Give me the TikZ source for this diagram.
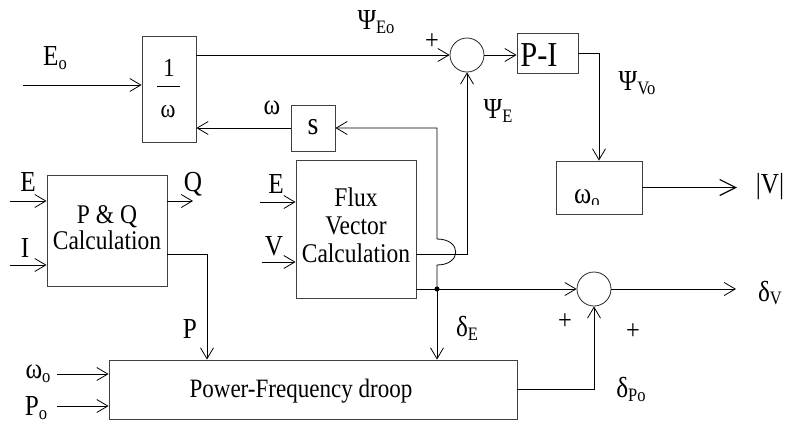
\documentclass[tikz,border=0pt]{standalone}
\usepackage{fontspec}
\setmainfont{Liberation Serif}
\usetikzlibrary{arrows.meta}
\newcommand{\cx}[1]{\scalebox{0.87}[1]{#1}}
\newcommand{\lbsub}[1]{\raisebox{-0.3ex}{\fontsize{19}{19}\selectfont #1}}
\begin{document}
\begin{tikzpicture}[x=1pt,y=-1pt,
  blk/.style={draw=black!75, line width=0.9pt, inner sep=0},
  sumc/.style={draw=black!85, line width=0.8pt, circle, minimum size=34pt, inner sep=0},
  wire/.style={line width=0.8pt},
  arr/.style={wire, -{Straight Barb[length=11pt,width=13pt,line width=0.8pt]}},
  bigarr/.style={line width=1.8pt, -{Straight Barb[length=16pt,width=16pt,line width=1.2pt]}},
  lbl/.style={inner sep=0, font=\fontsize{29}{30}\selectfont},
  btxt/.style={inner sep=0, align=center, font=\fontsize{27}{28}\selectfont},
  ]
\useasboundingbox (0,0) rectangle (789,424);

% blocks
\node[blk, minimum width=54pt, minimum height=106pt] (inv) at (169,89) {};
\node[inner sep=0, font=\fontsize{26}{26}\selectfont] (one) at (169,68) {\cx{1}};
\draw[line width=0.9pt] (157,86) -- (180,86);
\node[inner sep=0, font=\fontsize{26}{26}\selectfont] (invw) at (168,112) {\cx{ω}};
\node[blk, minimum width=44pt, minimum height=46pt] (s) at (313,128) {};
\node[inner sep=0, font=\fontsize{32}{32}\selectfont] (stext) at (313,127) {\cx{s}};
\node[blk, minimum width=120pt, minimum height=111pt] (pq) at (107,230.5) {};
\node[btxt, font=\fontsize{27}{25}\selectfont] (pqtext) at (107,231) {\cx{\begin{tabular}{@{}c@{}}P \& Q\\Calculation\end{tabular}}};
\node[blk, minimum width=120pt, minimum height=138pt] (flux) at (356,229) {};
\node[btxt] (fluxtext) at (356,229) {\cx{\begin{tabular}{@{}c@{}}Flux\\Vector\\Calculation\end{tabular}}};
\node[blk, minimum width=61pt, minimum height=40pt] (pi) at (547.5,53) {};
\node[inner sep=0, font=\fontsize{35}{35}\selectfont] (pitext) at (539,55) {\cx{P-I}};
\node[blk, minimum width=86pt, minimum height=53pt] (wo) at (599,187.5) {};
\begin{scope}
\clip (556,161) rectangle (642,204);
\node[inner sep=0, anchor=base west, font=\fontsize{30}{30}\selectfont] (wotext) at (574,203) {\cx{ω\lbsub{o}}};
\end{scope}
\node[blk, minimum width=408pt, minimum height=59pt] (droop) at (313,389.5) {};
\node[btxt, font=\fontsize{26.5}{28}\selectfont] (drooptext) at (301,391) {\cx{Power-Frequency droop}};
\node[sumc] (sum1) at (467,55) {};
\node[sumc] (sum2) at (594,289) {};

% coordinates
\coordinate (eoin) at (23,85);
\coordinate (pqE) at (10,201);
\coordinate (pqI) at (10,265);
\coordinate (qout) at (193,201);
\coordinate (pc) at (207,254);
\coordinate (fE) at (260,202);
\coordinate (fV) at (262,262);
\coordinate (win) at (57,374);
\coordinate (pin) at (57,406);
\coordinate (j1) at (467,254);
\coordinate (dot) at (437,289);
\coordinate (jlo) at (437,265);
\coordinate (jhi) at (437,239);
\coordinate (jtop) at (437,128);
\coordinate (vout) at (737,187.5);
\coordinate (dvout) at (736,289);

% connectors
\draw[arr] (eoin) -- (eoin -| inv.west);
\draw[arr] (inv.east |- sum1.west) -- (sum1.west);
\draw[arr] (sum1.east) -- (sum1.east -| pi.west);
\draw[arr] (pi.east) -- (pi.east -| wo.north) -- (wo.north);
\draw[bigarr] (wo.east) -- (vout);
\draw[arr] (s.west) -- (s.west -| inv.east);
\draw[arr] (flux.east |- j1) -- (j1) -- (sum1.south);
\draw[arr] (dot) -- (jlo) .. controls (462,265) and (462,239) .. (jhi) -- (jtop) -- (s.east);
\draw[wire] (flux.east |- dot) -- (dot);
\draw[arr] (dot) -- (sum2.west);
\fill (dot) circle (2.5);
\draw[arr] (dot) -- (dot |- droop.north);
\draw[arr] (sum2.east) -- (dvout);
\draw[arr] (droop.east) -- (droop.east -| sum2.south) -- (sum2.south);
\draw[arr] (pqE) -- (pqE -| pq.west);
\draw[arr] (pqI) -- (pqI -| pq.west);
\draw[arr] (qout -| pq.east) -- (qout);
\draw[arr] (pc -| pq.east) -- (pc) -- (pc |- droop.north);
\draw[arr] (fE) -- (fE -| flux.west);
\draw[arr] (fV) -- (fV -| flux.west);
\draw[arr] (win) -- (win -| droop.west);
\draw[arr] (pin) -- (pin -| droop.west);

% labels
\node[lbl] (lEo) at (55,58) {\cx{E\lbsub{o}}};
\node[lbl] (lPsiEo) at (376,22) {\cx{Ψ\lbsub{Eo}}};
\node[lbl] (lw) at (272,108) {\cx{ω}};
\node[lbl, font=\fontsize{28}{28}\selectfont] (lplus1) at (432,42) {\cx{+}};
\node[lbl] (lPsiVo) at (637,83) {\cx{Ψ\lbsub{Vo}}};
\node[lbl] (lPsiE) at (498,111) {\cx{Ψ\lbsub{E}}};
\node[lbl] (lV) at (770,187) {\cx{|V|}};
\node[lbl] (lE1) at (28,182) {\cx{E}};
\node[lbl] (lI) at (25,248) {\cx{I}};
\node[lbl] (lQ) at (193,184) {\cx{Q}};
\node[lbl] (lE2) at (276,184) {\cx{E}};
\node[lbl] (lV2) at (274,246) {\cx{V}};
\node[lbl] (lP) at (190,329) {\cx{P}};
\node[lbl] (ldE) at (467,328) {\cx{δ\lbsub{E}}};
\node[lbl, font=\fontsize{28}{28}\selectfont] (lplus2) at (565,322) {\cx{+}};
\node[lbl, font=\fontsize{28}{28}\selectfont] (lplus3) at (633,332) {\cx{+}};
\node[lbl] (ldV) at (770,293) {\cx{δ\lbsub{V}}};
\node[lbl] (ldPo) at (631,389) {\cx{δ\lbsub{Po}}};
\node[lbl] (lwo) at (38,374) {\cx{ω\lbsub{o}}};
\node[lbl] (lPo) at (36,408) {\cx{P\lbsub{o}}};
\end{tikzpicture}
\end{document}
